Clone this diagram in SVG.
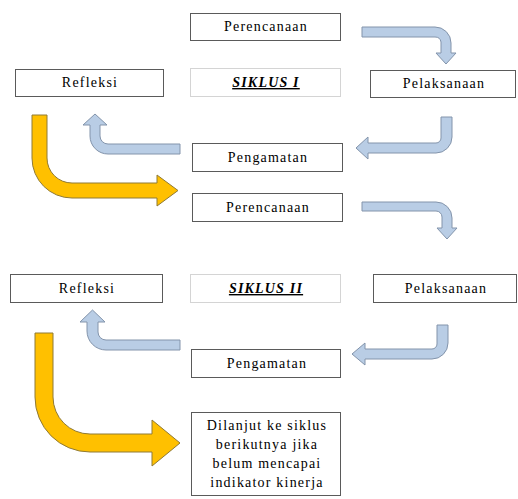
<svg xmlns="http://www.w3.org/2000/svg" width="518" height="499" viewBox="0 0 518 499">
<style>
.box{fill:#fff;stroke:#5a5a5a;stroke-width:1}
.lbox{fill:#fff;stroke:#d4d4d4;stroke-width:1}
.t{font-family:"Liberation Serif","Times New Roman",serif;font-size:14px;fill:#000;text-anchor:middle;letter-spacing:1.2px}
.s{font-weight:bold;font-style:italic;text-decoration:underline}
.blue{fill:#b9cde5;stroke:#8394ab;stroke-width:1}
.orange{fill:#ffc000;stroke:#8f7a36;stroke-width:1}
</style>
<rect width="518" height="499" fill="#fff"/>
<g id="connectors">
<path class="blue" d="M362,27 H435 A16,16 0 0 1 451,43 V53 H456 L446,64 L436,53 H441 V42 A6,6 0 0 0 435,37 H362 Z"/>
<path class="blue" d="M441,117 H452 V137 A16,16 0 0 1 436,153 H368 V159 L356,148 L368,137 V143 H436 A5,5 0 0 0 441,138 Z"/>
<path class="blue" d="M180,144 V154 H108 A18,18 0 0 1 90,136 V125 H83 L95,114 L107,125 H100 V136 A8,8 0 0 0 108,144 Z"/>
<path class="orange" d="M32,115 H47 V158 A25,25 0 0 0 72,183 H157 V175 L178,190.5 L157,206 V198 H72 A40,40 0 0 1 32,158 Z"/>
<path class="blue" d="M362,202 H436 A16,16 0 0 1 452,218 V228 H457 L447,239 L437,228 H442 V217 A6,6 0 0 0 436,211 H362 Z"/>
<path class="blue" d="M437,325 H448 V343 A16,16 0 0 1 432,359 H365 V365 L352,354 L365,343 V349 H432 A5,5 0 0 0 437,344 Z"/>
<path class="blue" d="M180,340 V350 H106 A19,19 0 0 1 87,331 V322 H80 L92.5,310 L105,322 H98 V332 A8,8 0 0 0 106,340 Z"/>
<path class="orange" d="M35,333 H53 V397 A37,37 0 0 0 90,434 H152 V420 L180,443 L152,466 V452 H90 A55,55 0 0 1 35,397 Z"/>
</g>
<g id="perencanaan1"><rect class="box" x="190.5" y="13.5" width="150" height="27"/><text class="t" x="266" y="31">Perencanaan</text></g>
<g id="siklus1"><rect class="lbox" x="190.5" y="68.5" width="150" height="28"/><text class="t s" x="266" y="87">SIKLUS I</text></g>
<g id="pelaksanaan1"><rect class="box" x="370.5" y="70.5" width="145" height="27"/><text class="t" x="444" y="88">Pelaksanaan</text></g>
<g id="refleksi1"><rect class="box" x="15.5" y="69.5" width="148" height="27"/><text class="t" x="90" y="87">Refleksi</text></g>
<g id="pengamatan1"><rect class="box" x="192.5" y="143.5" width="150" height="28"/><text class="t" x="268" y="162">Pengamatan</text></g>
<g id="perencanaan2"><rect class="box" x="192.5" y="193.5" width="150" height="28"/><text class="t" x="268" y="212">Perencanaan</text></g>
<g id="refleksi2"><rect class="box" x="10.5" y="274.5" width="152" height="28"/><text class="t" x="87" y="293">Refleksi</text></g>
<g id="siklus2"><rect class="lbox" x="190.5" y="274.5" width="150" height="28"/><text class="t s" x="266" y="293">SIKLUS II</text></g>
<g id="pelaksanaan2"><rect class="box" x="373.5" y="274.5" width="143" height="28"/><text class="t" x="446" y="293">Pelaksanaan</text></g>
<g id="pengamatan2"><rect class="box" x="191.5" y="349.5" width="149" height="28"/><text class="t" x="267" y="368">Pengamatan</text></g>
<g id="dilanjut"><rect class="box" x="191.5" y="412.5" width="149" height="83"/>
<text class="t" x="267" y="430">Dilanjut ke siklus</text>
<text class="t" x="267" y="449">berikutnya jika</text>
<text class="t" x="267" y="468">belum mencapai</text>
<text class="t" x="267" y="487">indikator kinerja</text>
</g>
</svg>
